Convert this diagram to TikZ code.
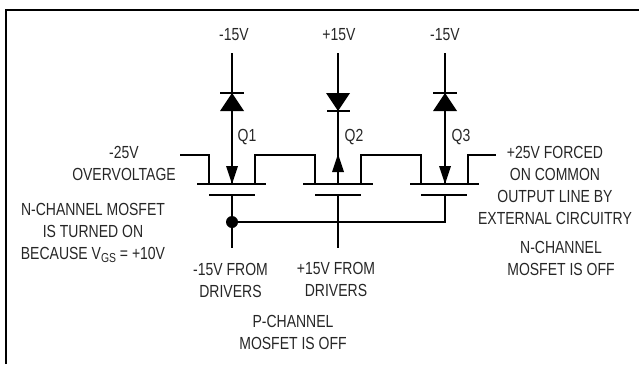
\documentclass[tikz,border=0pt]{standalone}
\usepackage{fontspec}
\setmainfont{Liberation Sans}
\usetikzlibrary{positioning}
\begin{document}
\begin{tikzpicture}
 [
 x=1pt, y=-1pt,
 wire/.style={draw=black, line width=1.2pt},
 label/.style={inner sep=0pt, align=center, font=\fontsize{17.5}{22}\selectfont, text=black!85, xscale=0.8},
 solid/.style={draw=none, fill=black},
 frame/.style={draw=black, line width=2.2pt}
 ]
 \useasboundingbox (0,0) rectangle (639,364);
 \draw [frame] (6,364) -- (6,10) -- (639,10);
 % supply lines and diodes
 \coordinate (top1) at (232,53);
 \coordinate (top2) at (338,53);
 \coordinate (top3) at (445,53);
 \coordinate (src1) at (232,184);
 \coordinate (src2) at (338,184);
 \coordinate (src3) at (445,184);
 \draw [wire] (top1) -- (src1);
 \draw [wire] (top2) -- (src2);
 \draw [wire] (top3) -- (src3);
 \fill [solid] (232,93) -- (220,111) -- (244,111) -- cycle;
 \fill [solid] (326,93) -- (350,93) -- (338,111) -- cycle;
 \fill [solid] (445,93) -- (433,111) -- (457,111) -- cycle;
 \draw [wire] (220,93) -- (244,93);
 \draw [wire] (327,111) -- (350,111);
 \draw [wire] (433,93) -- (457,93);
 % channel arrows
 \fill [solid] (226,166) -- (238,166) -- (232,184) -- cycle;
 \fill [solid] (338,154) -- (332,172) -- (344,172) -- cycle;
 \fill [solid] (439,166) -- (451,166) -- (445,184) -- cycle;
 % drains and channels
 \draw [wire] (180,155) -- (209,155) -- (209,184);
 \draw [wire] (255,184) -- (255,155) -- (315,155) -- (315,184);
 \draw [wire] (361,184) -- (361,155) -- (421,155) -- (421,184);
 \draw [wire] (468,184) -- (468,155) -- (496,155);
 \draw [wire] (197,184) -- (266,184);
 \draw [wire] (303,184) -- (373,184);
 \draw [wire] (410,184) -- (479,184);
 % gates
 \coordinate (gate1) at (232,195);
 \coordinate (gate2) at (338,195);
 \coordinate (gate3) at (445,195);
 \draw [wire] (209,195) -- (255,195);
 \draw [wire] (315,195) -- (361,195);
 \draw [wire] (421,195) -- (467,195);
 \draw [wire] (gate1) -- (232,248);
 \draw [wire] (gate2) -- (338,248);
 \draw [wire] (gate3) -- (445,222) -- (232,222);
 \fill [solid] (232,222) circle (6);
 % labels
 \node [label] (sup1) at (234,35) {-15V};
 \node [label] (sup2) at (339,35) {+15V};
 \node [label] (sup3) at (445,35) {-15V};
 \node [label] (q1) at (247,137) {Q1};
 \node [label] (q2) at (354,137) {Q2};
 \node [label] (q3) at (461,137) {Q3};
 \node [label] (over) at (124,163) {-25V\\OVERVOLTAGE};
 \node [label] (ntext) at (93,233) {N-CHANNEL MOSFET\\IS TURNED ON\\BECAUSE V\raisebox{-2.5pt}{\fontsize{13}{13}\selectfont GS} = +10V};
 \node [label] (forced) at (555,185) {+25V FORCED\\ON COMMON\\OUTPUT LINE BY\\EXTERNAL CIRCUITRY};
 \node [label] (noff) at (561,258) {N-CHANNEL\\MOSFET IS OFF};
 \node [label] (drv1) at (230.5,280) {-15V FROM\\DRIVERS};
 \node [label] (drv2) at (336,279) {+15V FROM\\DRIVERS};
 \node [label] (poff) at (293,332) {P-CHANNEL\\MOSFET IS OFF};
\end{tikzpicture}
\end{document}
